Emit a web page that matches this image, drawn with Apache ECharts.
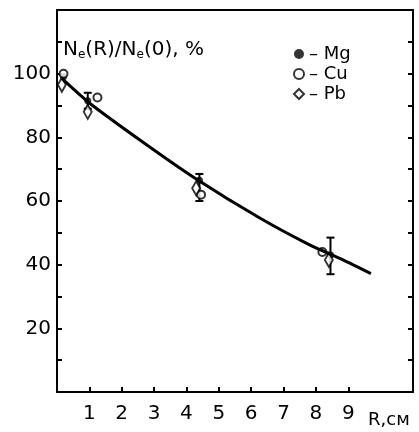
<!DOCTYPE html>
<html>
<head>
<meta charset="utf-8">
<script src="https://cdn.jsdelivr.net/npm/echarts@6/dist/echarts.min.js"></script>
<style>
  html, body { margin: 0; padding: 0; background: #fff; }
  #main { width: 419px; height: 432px; }
</style>
</head>
<body>
<div id="main"></div>
<script>
// fitted curve
var curveR = [0.15, 1, 2.68, 4.23, 6.24, 7.79, 8.82, 9.7];
var curveN = [98.5, 90.8, 78.3, 67.4, 54.8, 46.3, 41.6, 37.2];

// measured points
var mgR = [0.2, 0.95, 4.4, 8.45];
var mgN = [99, 91.5, 66.5, 43];
var cuR = [0.2, 1.25, 4.45, 8.2];
var cuN = [100, 92.5, 62, 44];
var pbR = [0.15, 0.95, 4.3, 8.4];
var pbN = [96.5, 88, 64, 41.5];

// error bars: R, low, high
var errR = [0.95, 4.4, 8.45];
var errLo = [89, 60, 37];
var errHi = [94, 68.5, 48.5];

var xTicks = [1, 2, 3, 4, 5, 6, 7, 8, 9];
var yLabels = [20, 40, 60, 80, 100];
var yTicks = [10, 20, 30, 40, 50, 60, 70, 80, 90, 100, 110];

function pairs(a, b) {
  return a.map(function (v, i) { return [v, b[i]]; });
}

var font = 'DejaVu Sans';
var chart = echarts.init(document.getElementById('main'));

var option = {
  animation: false,
  backgroundColor: '#fff',
  textStyle: { fontFamily: font, color: '#000' },
  grid: { left: 57, right: 6, top: 10, bottom: 40 },
  title: {
    left: 58, top: 34,
    text: '{n|N}{s|e}{n|(R)/N}{s|e}{n|(0), %}',
    textStyle: {
      fontWeight: 'normal',
      rich: {
        n: { fontSize: 20, fontFamily: font, color: '#000', fontWeight: 'normal' },
        s: { fontSize: 12, fontFamily: font, color: '#000', fontWeight: 'normal', padding: [10, 0, 0, 0] }
      }
    }
  },
  legend: {
    orient: 'vertical', left: 288, top: 40, itemGap: 2,
    itemWidth: 10, itemHeight: 10,
    textStyle: { fontSize: 18, fontFamily: font, color: '#000' },
    formatter: function (n) { return '– ' + n; },
    data: ['Mg', 'Cu', 'Pb']
  },
  graphic: [{
    type: 'text', left: 368, top: 411,
    style: { text: 'R,см', font: '18px "DejaVu Sans"', fill: '#000' }
  }],
  xAxis: [{
    type: 'value', min: 0, max: 11,
    axisLine: { onZero: false, lineStyle: { color: '#000', width: 2 } },
    axisTick: { inside: true, length: 5, customValues: xTicks, lineStyle: { color: '#000', width: 2 } },
    axisLabel: { customValues: xTicks, fontSize: 20, fontFamily: font, color: '#000', margin: 12 },
    splitLine: { show: false }
  }, {
    type: 'value', min: 0, max: 11, position: 'top',
    axisLine: { show: true, onZero: false, lineStyle: { color: '#000', width: 2 } },
    axisTick: { show: false }, axisLabel: { show: false }, splitLine: { show: false }
  }],
  yAxis: [{
    type: 'value', min: 0, max: 120,
    axisLine: { show: true, onZero: false, lineStyle: { color: '#000', width: 2 } },
    axisTick: { inside: true, length: 5, customValues: yTicks, lineStyle: { color: '#000', width: 2 } },
    axisLabel: { customValues: yLabels, fontSize: 20, fontFamily: font, color: '#000', margin: 6 },
    splitLine: { show: false }
  }, {
    type: 'value', min: 0, max: 120, position: 'right',
    axisLine: { show: true, onZero: false, lineStyle: { color: '#000', width: 2 } },
    axisTick: { inside: true, length: 5, customValues: yTicks, lineStyle: { color: '#000', width: 2 } },
    axisLabel: { show: false }, splitLine: { show: false }
  }],
  series: [{
    type: 'line', smooth: 0.25, showSymbol: false, silent: true,
    data: pairs(curveR, curveN),
    lineStyle: { color: '#000', width: 3 }
  }, {
    type: 'custom',
    data: errR.map(function (r, i) { return [r, errLo[i], errHi[i]]; }),
    renderItem: function (params, api) {
      var lo = api.coord([api.value(0), api.value(1)]);
      var hi = api.coord([api.value(0), api.value(2)]);
      var w = 4;
      return {
        type: 'group',
        children: [
          { type: 'line', shape: { x1: lo[0], y1: lo[1], x2: hi[0], y2: hi[1] }, style: { stroke: '#000', lineWidth: 2 } },
          { type: 'line', shape: { x1: lo[0] - w, y1: lo[1], x2: lo[0] + w, y2: lo[1] }, style: { stroke: '#000', lineWidth: 2 } },
          { type: 'line', shape: { x1: hi[0] - w, y1: hi[1], x2: hi[0] + w, y2: hi[1] }, style: { stroke: '#000', lineWidth: 2 } }
        ]
      };
    }
  }, {
    name: 'Mg', type: 'scatter', symbol: 'circle', symbolSize: 7,
    data: pairs(mgR, mgN),
    itemStyle: { color: '#000' }
  }, {
    name: 'Cu', type: 'scatter', symbol: 'emptyCircle', symbolSize: 8,
    data: pairs(cuR, cuN),
    itemStyle: { color: '#000', borderWidth: 2 }
  }, {
    name: 'Pb', type: 'scatter', symbol: 'diamond', symbolSize: [8, 14],
    data: pairs(pbR, pbN),
    itemStyle: { color: '#fff', borderColor: '#000', borderWidth: 2 }
  }]
};

chart.setOption(option);
</script>
</body>
</html>
